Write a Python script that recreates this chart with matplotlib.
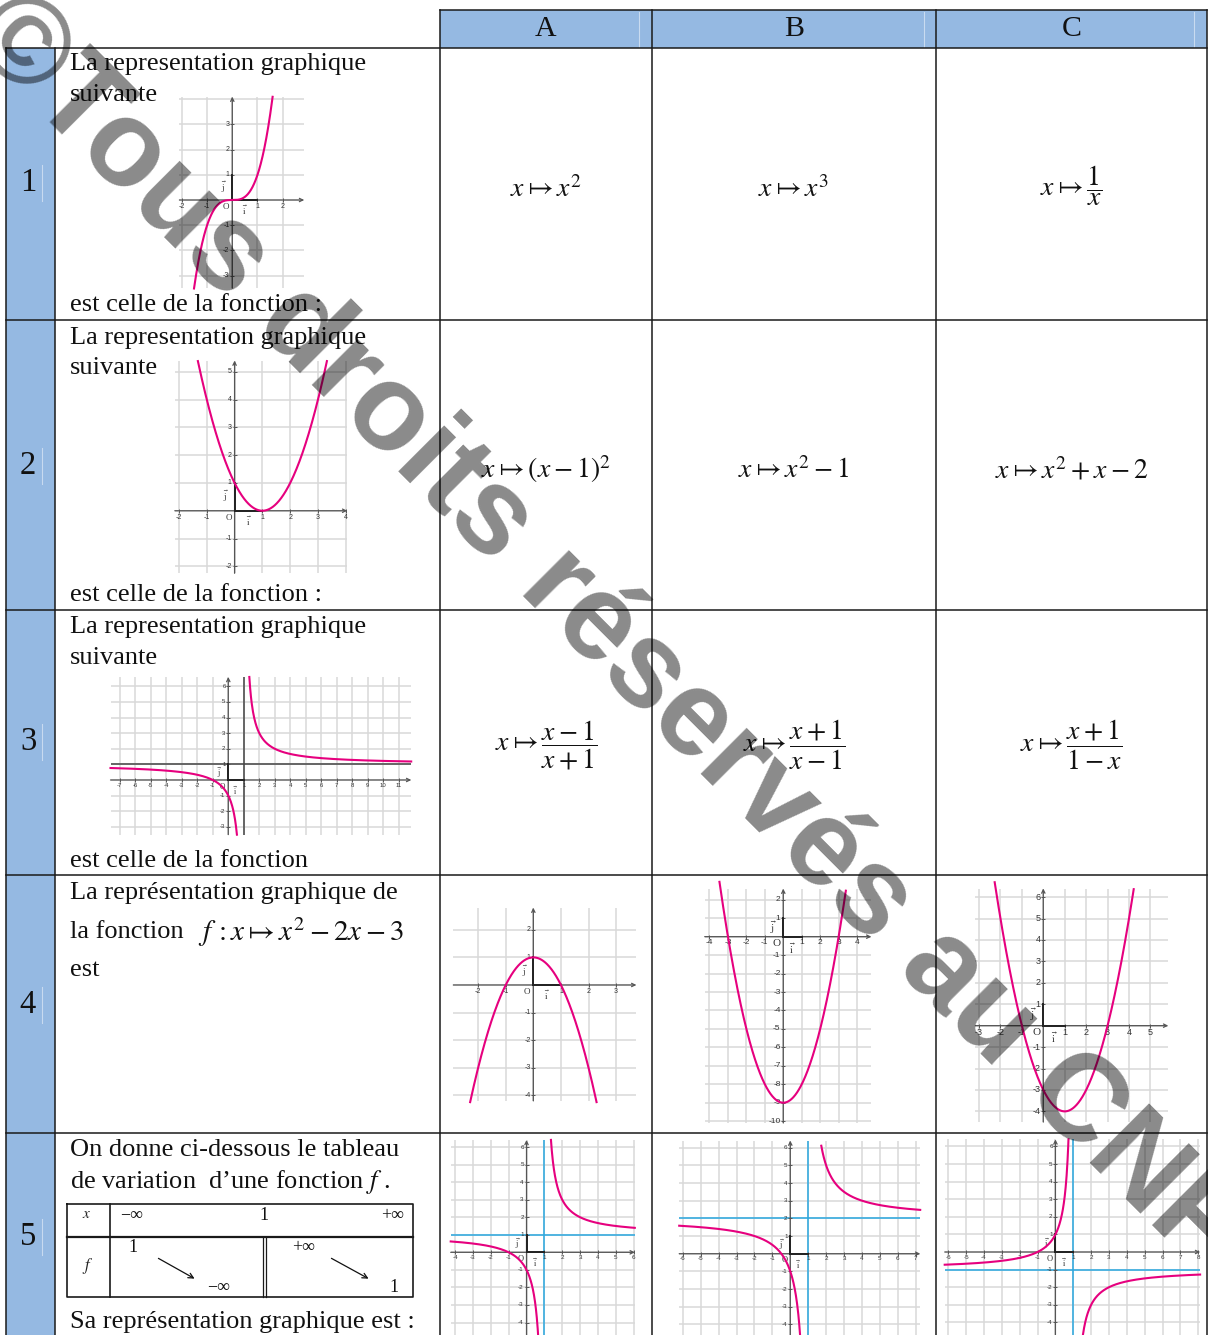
import numpy as np
import matplotlib
matplotlib.use("Agg")
import matplotlib.pyplot as plt

W, H = 1208, 1335
DPI = 100

# ------------------------------------------------------------------ data
header_labels = ["A", "B", "C"]
row_numbers = ["1", "2", "3", "4", "5"]

q1_lines = ["La representation graphique", "suivante"]
q1_end = "est celle de la fonction :"
q2_lines = ["La representation graphique", "suivante"]
q2_end = "est celle de la fonction :"
q3_lines = ["La representation graphique", "suivante"]
q3_end = "est celle de la fonction"
q4_lines = ["La représentation graphique de", "la fonction", "est"]
q4_formula = r"$f\,:x\mapsto x^2-2x-3$"
q5_lines = ["On donne ci-dessous le tableau",
            r"de variation  d’une fonction $f$ ."]
q5_end = "Sa représentation graphique est :"

row1_choices = [r"$x\mapsto x^2$", r"$x\mapsto x^3$", r"$x\mapsto\dfrac{1}{x}$"]
row2_choices = [r"$x\mapsto(x-1)^2$", r"$x\mapsto x^2-1$", r"$x\mapsto x^2+x-2$"]
row3_choices = [r"$x\mapsto\dfrac{x-1}{x+1}$", r"$x\mapsto\dfrac{x+1}{x-1}$",
                r"$x\mapsto\dfrac{x+1}{1-x}$"]

# variation table
var_x_row = ["−∞", "1", "+∞"]
var_f_left = ["1", "−∞"]
var_f_right = ["+∞", "1"]

# curves : numerator / denominator polynomial coefficients + drawn branches
g1_num, g1_den, g1_branches = [1, 0, 0, 0], [1], [(-1.52, 1.60)]
g2_num, g2_den, g2_branches = [1, -2, 1], [1], [(-1.32, 3.32)]
g3_num, g3_den, g3_branches = [1, 1], [1, -1], [(-7.6, 0.556), (1.357, 11.8)]
g4a_num, g4a_den, g4a_branches = [-1, 0, 1], [1], [(-2.29, 2.29)]
g4b_num, g4b_den, g4b_branches = [1, 0, -9], [1], [(-3.46, 3.39)]
g4c_num, g4c_den, g4c_branches = [1, -2, -3], [1], [(-2.27, 4.22)]
g5a_num, g5a_den, g5a_branches = [1, 1], [1, -1], [(-4.25, 0.65), (1.37, 6.07)]
g5b_num, g5b_den, g5b_branches = [2, 1], [1, -1], [(-6.2, 0.55), (1.73, 7.25)]
g5c_num, g5c_den, g5c_branches = [1, 1], [-1, 1], [(-6.2, 0.73), (1.54, 8.1)]

g3_asymptotes = (1, 1)
g5a_asymptotes = (1, 1)
g5b_asymptotes = (1, 2)
g5c_asymptotes = (1, -1)

g1_xt, g1_yt = [-2, -1, 1, 2], [3, 2, 1, -1, -2, -3]
g2_xt, g2_yt = [-2, -1, 1, 2, 3, 4], [5, 4, 3, 2, 1, -1, -2]
g3_xt = [-7, -6, -5, -4, -3, -2, -1, 1, 2, 3, 4, 5, 6, 7, 8, 9, 10, 11]
g3_yt = [6, 5, 4, 3, 2, 1, -1, -2, -3]
g4a_xt, g4a_yt = [-2, -1, 1, 2, 3], [2, 1, -1, -2, -3, -4]
g4b_xt = [-4, -3, -2, -1, 1, 2, 3, 4]
g4b_yt = [2, 1, -1, -2, -3, -4, -5, -6, -7, -8, -9, -10]
g4c_xt, g4c_yt = [-3, -2, -1, 1, 2, 3, 4, 5], [6, 5, 4, 3, 2, 1, -1, -2, -3, -4]
g5a_xt, g5a_yt = [-4, -3, -2, -1, 1, 2, 3, 4, 5, 6], [6, 5, 4, 3, 2, 1, -1, -2, -3, -4]
g5b_xt = [-6, -5, -4, -3, -2, -1, 1, 2, 3, 4, 5, 6, 7]
g5b_yt = [6, 5, 4, 3, 2, 1, -1, -2, -3, -4]
g5c_xt = [-6, -5, -4, -3, -2, -1, 1, 2, 3, 4, 5, 6, 7, 8]
g5c_yt = [6, 5, 4, 3, 2, 1, -1, -2, -3, -4]

watermark = "©Tous droits réservés au CNF"

# ------------------------------------------------------------------ style
plt.rcParams['font.family'] = ['Liberation Serif', 'DejaVu Serif']
plt.rcParams['mathtext.fontset'] = 'stix'

BLUE = '#95b9e2'
LINE = '#1a1a1a'
CURVE = '#e6007e'
ASYM = '#2aa8e0'
GRID = '#d9d9d9'
AXC = '#555555'

fig = plt.figure(figsize=(W / DPI, H / DPI), dpi=DPI)
ax0 = fig.add_axes([0, 0, 1, 1])
ax0.set_xlim(0, W)
ax0.set_ylim(H, 0)
ax0.axis('off')

# table geometry (pixels)
col_x = [6, 55, 440, 652, 936, 1207]
row_y = [47.5, 320, 610, 875, 1133, H]
head_top = 10

ax0.add_patch(plt.Rectangle((col_x[0], row_y[0]), col_x[1] - col_x[0], H - row_y[0],
                            facecolor=BLUE, edgecolor='none', zorder=0))
ax0.add_patch(plt.Rectangle((col_x[2], head_top), col_x[5] - col_x[2], row_y[0] - head_top,
                            facecolor=BLUE, edgecolor='none', zorder=0))
lw = 1.1
for y in row_y[:-1]:
    ax0.plot([col_x[0], col_x[5]], [y, y], color=LINE, lw=lw, zorder=2)
ax0.plot([col_x[2], col_x[5]], [head_top, head_top], color=LINE, lw=lw, zorder=2)
for x in col_x:
    y0 = head_top if x >= col_x[2] else row_y[0]
    ax0.plot([x, x], [y0, H], color=LINE, lw=lw, zorder=2)
# faint lines inside header
for x in [638.5, 923.5, 1194]:
    ax0.plot([x, x], [head_top + 2, row_y[0] - 1], color='#c9dbf0', lw=0.8, zorder=1)

# header labels
col_centers = [(col_x[i] + col_x[i + 1]) / 2 for i in range(2, 5)]
for cx, lab in zip(col_centers, header_labels):
    ax0.text(cx, 29, lab, ha='center', va='center', fontsize=21.5, color='#111')

# row numbers
num_y = [183, 466, 742, 1005, 1237]
for ny, lab in zip(num_y, row_numbers):
    ax0.text(28, ny, lab, ha='center', va='center', fontsize=23.5, color='#111')
    ax0.plot([41.5, 41.5], [ny - 18, ny + 18], color='#c8daf0', lw=0.8, zorder=1)

# question texts
TX = 70
QFS = 19
def qtext(y, s, x=TX, fs=QFS):
    ax0.text(x, y, s, ha='left', va='center', fontsize=fs, color='#111')

for y, s in zip([64, 95], q1_lines):
    qtext(y, s)
qtext(305, q1_end)
for y, s in zip([338, 368], q2_lines):
    qtext(y, s)
qtext(595, q2_end)
for y, s in zip([627, 658], q3_lines):
    qtext(y, s)
qtext(861, q3_end)
for y, s in zip([893, 932, 970], q4_lines):
    qtext(y, s)
ax0.text(198, 941, q4_formula, ha='left', va='baseline', fontsize=21, color='#111')
for y, s in zip([1150, 1182], q5_lines):
    qtext(y, s)
qtext(1322, q5_end)

# answer formulas
FFS = 20
for cx, s in zip(col_centers, row1_choices[:2]):
    ax0.text(cx, 197, s, ha='center', va='baseline', fontsize=FFS, color='#111')
ax0.text(col_centers[2], 186, row1_choices[2], ha='center', va='center', fontsize=FFS, color='#111')
for cx, s in zip(col_centers, row2_choices):
    ax0.text(cx, 478, s, ha='center', va='baseline', fontsize=FFS, color='#111')
for cx, s in zip(col_centers, row3_choices):
    ax0.text(cx, 745, s, ha='center', va='center', fontsize=FFS, color='#111')

# variation table
vt_l, vt_r, vt_t, vt_m, vt_b = 66.7, 413.3, 1204, 1237.3, 1297
vt_c = 110
TLW = 1.2
ax0.plot([vt_l, vt_r, vt_r, vt_l, vt_l], [vt_t, vt_t, vt_b, vt_b, vt_t], color=LINE, lw=TLW, zorder=3)
ax0.plot([vt_l, vt_r], [vt_m, vt_m], color=LINE, lw=1.6, zorder=3)
ax0.plot([vt_c, vt_c], [vt_t, vt_b], color=LINE, lw=TLW, zorder=3)
for x in [263.3, 265.7]:
    ax0.plot([x, x], [vt_m, vt_b], color=LINE, lw=0.9, zorder=3)
VFS = 13
ax0.text(87, 1215, r"$x$", ha='center', va='center', fontsize=11, color='#222')
ax0.text(88, 1266, r"$f$", ha='center', va='center', fontsize=12, color='#222')
for x, s in zip([132, 264, 393], var_x_row):
    ax0.text(x, 1215, s, ha='center', va='center', fontsize=VFS, color='#111')
ax0.text(133, 1248, var_f_left[0], ha='center', va='center', fontsize=VFS, color='#111')
ax0.text(219, 1288, var_f_left[1], ha='center', va='center', fontsize=VFS, color='#111')
ax0.text(304, 1248, var_f_right[0], ha='center', va='center', fontsize=VFS, color='#111')
ax0.text(394, 1288, var_f_right[1], ha='center', va='center', fontsize=VFS, color='#111')
for (x0, y0, x1, y1) in [(156, 1257, 197, 1280), (329, 1257, 371, 1280)]:
    ax0.annotate('', xy=(x1, y1), xytext=(x0, y0),
                 arrowprops=dict(arrowstyle='->', color='#111', lw=0.9, mutation_scale=9))


# ------------------------------------------------------------------ mini graphs
def curve_values(num, den, x):
    return np.polyval(num, x) / np.polyval(den, x)


def mini_graph(box, xlim, ylim, xt, yt, num, den, branches, asym=None,
               asym_color=ASYM, lfs=5.0, ofs=6.5):
    l, t, r, b = box
    ax = fig.add_axes([l / W, 1 - b / H, (r - l) / W, (b - t) / H])
    ax.set_xlim(*xlim)
    ax.set_ylim(*ylim)
    ax.axis('off')
    for gx in range(int(np.ceil(xlim[0])), int(np.floor(xlim[1])) + 1):
        ax.axvline(gx, color=GRID, lw=1.1, zorder=1)
    for gy in range(int(np.ceil(ylim[0])), int(np.floor(ylim[1])) + 1):
        ax.axhline(gy, color=GRID, lw=1.1, zorder=1)
    # axes with arrows
    ax.annotate('', xy=(xlim[1], 0), xytext=(xlim[0], 0), annotation_clip=False,
                arrowprops=dict(arrowstyle='->', color=AXC, lw=0.9, mutation_scale=6,
                                shrinkA=0, shrinkB=0), zorder=3)
    ax.annotate('', xy=(0, ylim[1]), xytext=(0, ylim[0]), annotation_clip=False,
                arrowprops=dict(arrowstyle='->', color=AXC, lw=0.9, mutation_scale=6,
                                shrinkA=0, shrinkB=0), zorder=3)
    ax.plot(xt, np.zeros(len(xt)), ls='none', marker='|', ms=3, mew=0.7, color=AXC, zorder=3)
    ax.plot(np.zeros(len(yt)), yt, ls='none', marker='_', ms=3, mew=0.7, color=AXC, zorder=3)
    for v in xt:
        ax.annotate(str(v), (v, 0), xytext=(0, -2), textcoords='offset points',
                    ha='center', va='top', fontsize=lfs, color='#333',
                    family='Liberation Sans', zorder=4)
    for v in yt:
        ax.annotate(str(v), (0, v), xytext=(-2, 0), textcoords='offset points',
                    ha='right', va='center', fontsize=lfs, color='#333',
                    family='Liberation Sans', zorder=4)
    # unit vectors
    ax.plot([0, 1], [0, 0], color='#222', lw=1.4, zorder=4)
    ax.plot([0, 0], [0, 1], color='#222', lw=1.4, zorder=4)
    ax.annotate('O', (0, 0), xytext=(-2, -2), textcoords='offset points',
                ha='right', va='top', fontsize=ofs, color='#333', zorder=4)
    ax.annotate(r'$\vec{\mathrm{i}}$', (0.5, 0), xytext=(0, -3), textcoords='offset points',
                ha='center', va='top', fontsize=ofs, color='#333', zorder=4)
    ax.annotate(r'$\vec{\mathrm{j}}$', (0, 0.5), xytext=(-4, 0), textcoords='offset points',
                ha='right', va='center', fontsize=ofs, color='#333', zorder=4)
    if asym is not None:
        ax.axvline(asym[0], color=asym_color, lw=1.1, zorder=2)
        ax.axhline(asym[1], color=asym_color, lw=1.1, zorder=2)
    for a, bnd in branches:
        xs = np.linspace(a, bnd, 400)
        ax.plot(xs, curve_values(num, den, xs), color=CURVE, lw=1.5, zorder=5, clip_on=False)
    return ax


mini_graph((179.4, 96.7, 304.1, 288.2), (-2.1, 2.85), (-3.5, 4.1), g1_xt, g1_yt,
           g1_num, g1_den, g1_branches)
mini_graph((174.8, 360.6, 347.2, 573.3), (-2.15, 4.05), (-2.25, 5.4), g2_xt, g2_yt,
           g2_num, g2_den, g2_branches)
mini_graph((110.5, 677, 411.2, 834.6), (-7.6, 11.8), (-3.5, 6.6), g3_xt, g3_yt,
           g3_num, g3_den, g3_branches, asym=g3_asymptotes, asym_color='#444444',
           lfs=4.3, ofs=5.5)
mini_graph((453.3, 907.7, 636.3, 1100.9), (-2.9, 3.73), (-4.2, 2.8), g4a_xt, g4a_yt,
           g4a_num, g4a_den, g4a_branches)
mini_graph((704.7, 888.7, 871.3, 1123), (-4.26, 4.77), (-10.1, 2.6), g4b_xt, g4b_yt,
           g4b_num, g4b_den, g4b_branches, lfs=6.0, ofs=8)
mini_graph((975.4, 888.5, 1168.2, 1122.1), (-3.17, 5.83), (-4.5, 6.4), g4c_xt, g4c_yt,
           g4c_num, g4c_den, g4c_branches, lfs=6.5, ofs=8)
mini_graph((450.7, 1140, 634.8, 1334.8), (-4.25, 6.07), (-4.7, 6.4), g5a_xt, g5a_yt,
           g5a_num, g5a_den, g5a_branches, asym=g5a_asymptotes, lfs=4.5, ofs=6)
mini_graph((679.2, 1140.6, 920.2, 1335), (-6.2, 7.25), (-4.6, 6.4), g5b_xt, g5b_yt,
           g5b_num, g5b_den, g5b_branches, asym=g5b_asymptotes, lfs=4.5, ofs=6)
mini_graph((944.7, 1139.4, 1200.1, 1334.7), (-6.2, 8.1), (-4.7, 6.4), g5c_xt, g5c_yt,
           g5c_num, g5c_den, g5c_branches, asym=g5c_asymptotes, lfs=4.5, ofs=6)

# watermark
fig.text(604 / W, 1 - 632 / H, watermark, rotation=-45, rotation_mode='anchor',
         ha='center', va='center', fontsize=88, fontweight='bold', color='black', alpha=0.46,
         family=['Liberation Sans', 'DejaVu Sans'], zorder=100)

fig.savefig('out.png', dpi=DPI)
